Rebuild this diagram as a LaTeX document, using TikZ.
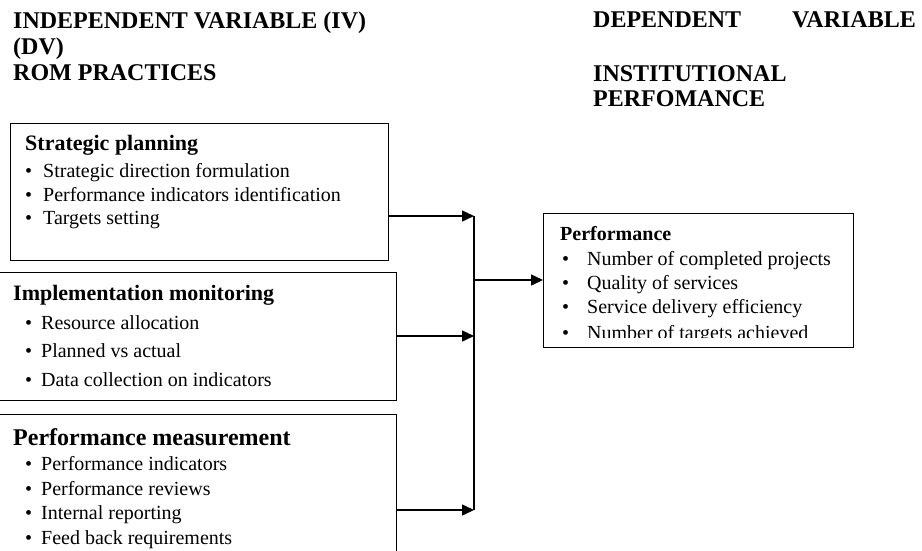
\documentclass[tikz,border=0pt]{standalone}
\usepackage{fontspec}
\setmainfont{Liberation Serif}
\usetikzlibrary{arrows.meta}
\tikzset{
  box/.style={draw, line width=1.2pt, rectangle, anchor=north west, inner sep=0pt},
  hdr/.style={anchor=base west, inner sep=0pt, font=\fontsize{24}{26}\selectfont\bfseries},
  ttl/.style={anchor=base west, inner sep=0pt, font=\fontsize{#1}{#1}\selectfont\bfseries},
  itm/.style={anchor=base west, inner sep=0pt, font=\fontsize{20}{22}\selectfont},
  conn/.style={line width=1.5pt},
  arr/.style={line width=1.5pt, -{Triangle[length=12pt,width=11pt]}}
}
\newcommand{\bul}[2]{\makebox[#1][l]{•}#2}
\begin{document}
\begin{tikzpicture}[x=1pt,y=-1pt]
\useasboundingbox (0,0) rectangle (922,550);
% headers
\node[hdr] (h1) at (13,28.5) {INDEPENDENT VARIABLE (IV)};
\node[hdr] (h2) at (13,54.5) {(DV)};
\node[hdr] (h3) at (13,80.5) {ROM PRACTICES};
\node[hdr] (h4) at (593,27.5) {DEPENDENT};
\node[hdr, anchor=base east] (h5) at (916,27.5) {VARIABLE};
\node[hdr] (h6) at (593,81.5) {INSTITUTIONAL};
\node[hdr] (h7) at (593,106) {PERFOMANCE};
% boxes
\node[box, minimum width=378pt, minimum height=137pt] (sp) at (10,123) {};
\node[box, minimum width=398pt, minimum height=128pt] (im) at (-2,272) {};
\node[box, minimum width=398pt, minimum height=150pt] (pm) at (-2,414) {};
\node[box, minimum width=310pt, minimum height=134pt] (pf) at (543,213) {};
% box 1 text
\node[ttl=22] (sp0) at (25,150.5) {Strategic planning};
\node[itm] (sp1) at (25,177) {\bul{18pt}{Strategic direction formulation}};
\node[itm] (sp2) at (25,201) {\bul{18pt}{Performance indicators identification}};
\node[itm] (sp3) at (25,224) {\bul{18pt}{Targets setting}};
% box 2 text
\node[ttl=22] (im0) at (13,300.5) {Implementation monitoring};
\node[itm] (im1) at (25,329) {\bul{16pt}{Resource allocation}};
\node[itm] (im2) at (25,357) {\bul{16pt}{Planned vs actual}};
\node[itm] (im3) at (25,386) {\bul{16pt}{Data collection on indicators}};
% box 3 text
\node[ttl=24] (pm0) at (13,445) {Performance measurement};
\node[itm] (pm1) at (25,470) {\bul{16pt}{Performance indicators}};
\node[itm] (pm2) at (25,495) {\bul{16pt}{Performance reviews}};
\node[itm] (pm3) at (25,519) {\bul{16pt}{Internal reporting}};
\node[itm] (pm4) at (25,544) {\bul{16pt}{Feed back requirements}};
% box 4 text
\node[ttl=20] (pf0) at (560,240) {Performance};
\node[itm] (pf1) at (562,265) {\bul{25pt}{Number of completed projects}};
\node[itm] (pf2) at (562,289) {\bul{25pt}{Quality of services}};
\node[itm] (pf3) at (562,313) {\bul{25pt}{Service delivery efficiency}};
\node[itm] (pf4) at (562,339.5) {\bul{25pt}{Number of targets achieved}};
\fill[white] (548,337.5) rectangle (850,345);
% connectors
\coordinate (j1) at (474,216);
\coordinate (j2) at (474,336);
\coordinate (j3) at (474,510);
\coordinate (j4) at (474,280);
\draw[conn] (j1) -- (j3);
\draw[arr] (sp.east |- j1) -- (j1);
\draw[arr] (im.east |- j2) -- (j2);
\draw[arr] (pm.east |- j3) -- (j3);
\draw[arr] (j4) -- (pf.west |- j4);
\end{tikzpicture}
\end{document}
